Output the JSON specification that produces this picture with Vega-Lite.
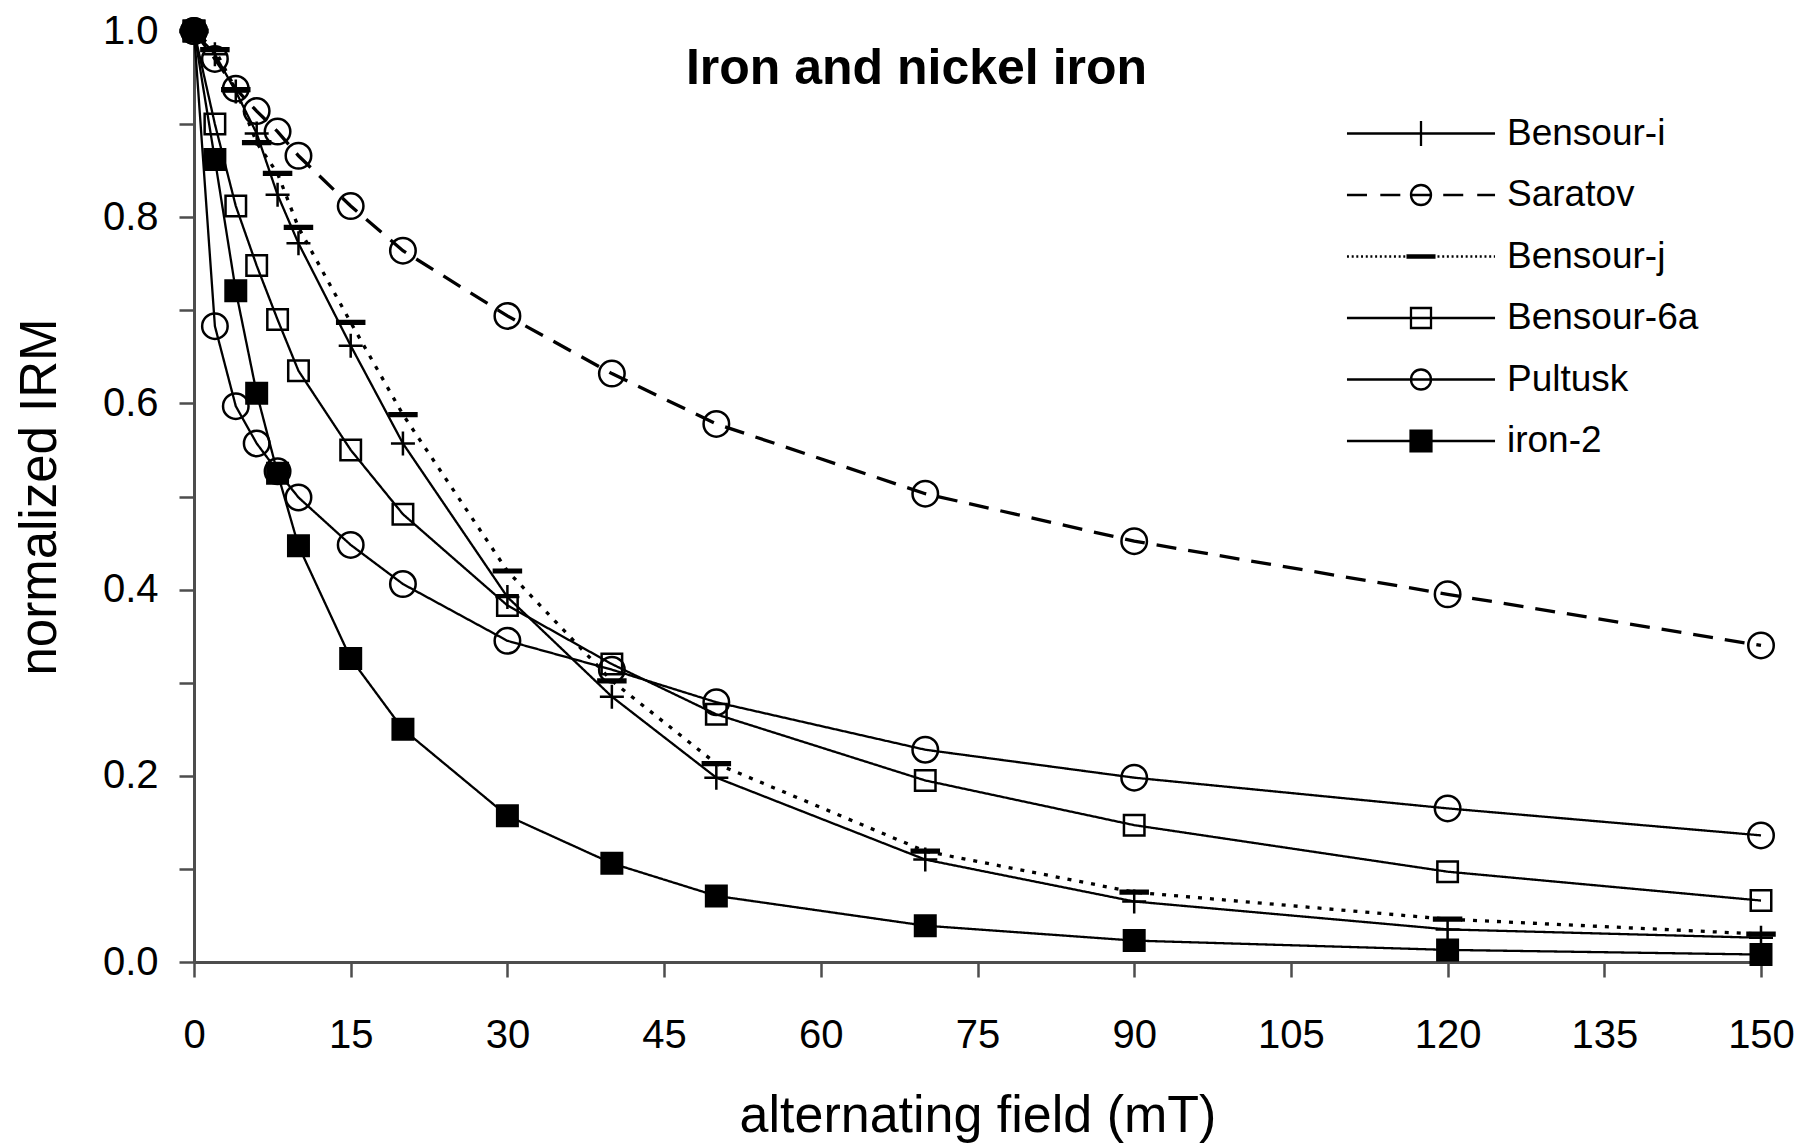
{
  "$schema": "https://vega.github.io/schema/vega-lite/v6.json",
  "width": 1567,
  "height": 931,
  "autosize": {"type": "none"},
  "padding": {"left": 194, "top": 31, "right": 42, "bottom": 182},
  "background": "white",
  "title": {
    "text": "Iron and nickel iron",
    "font": "Liberation Sans",
    "fontSize": 50,
    "fontWeight": "bold",
    "color": "black",
    "anchor": "middle",
    "frame": "group",
    "baseline": "alphabetic",
    "dx": -61,
    "offset": -123
  },
  "data": {
    "values": [
      {"s": "Bensour-i", "x": 0, "y": 1.0},
      {"s": "Bensour-i", "x": 2, "y": 0.975},
      {"s": "Bensour-i", "x": 4, "y": 0.935},
      {"s": "Bensour-i", "x": 6, "y": 0.89},
      {"s": "Bensour-i", "x": 8, "y": 0.824},
      {"s": "Bensour-i", "x": 10, "y": 0.772},
      {"s": "Bensour-i", "x": 15, "y": 0.662},
      {"s": "Bensour-i", "x": 20, "y": 0.557},
      {"s": "Bensour-i", "x": 30, "y": 0.392},
      {"s": "Bensour-i", "x": 40, "y": 0.285},
      {"s": "Bensour-i", "x": 50, "y": 0.198},
      {"s": "Bensour-i", "x": 70, "y": 0.11},
      {"s": "Bensour-i", "x": 90, "y": 0.065},
      {"s": "Bensour-i", "x": 120, "y": 0.035},
      {"s": "Bensour-i", "x": 150, "y": 0.026},
      {"s": "Saratov", "x": 0, "y": 1.0},
      {"s": "Saratov", "x": 2, "y": 0.97},
      {"s": "Saratov", "x": 4, "y": 0.938},
      {"s": "Saratov", "x": 6, "y": 0.914},
      {"s": "Saratov", "x": 8, "y": 0.892},
      {"s": "Saratov", "x": 10, "y": 0.866},
      {"s": "Saratov", "x": 15, "y": 0.812},
      {"s": "Saratov", "x": 20, "y": 0.764},
      {"s": "Saratov", "x": 30, "y": 0.694},
      {"s": "Saratov", "x": 40, "y": 0.632},
      {"s": "Saratov", "x": 50, "y": 0.578},
      {"s": "Saratov", "x": 70, "y": 0.503},
      {"s": "Saratov", "x": 90, "y": 0.452},
      {"s": "Saratov", "x": 120, "y": 0.395},
      {"s": "Saratov", "x": 150, "y": 0.34},
      {"s": "Bensour-j", "x": 0, "y": 1.0},
      {"s": "Bensour-j", "x": 2, "y": 0.98},
      {"s": "Bensour-j", "x": 4, "y": 0.937},
      {"s": "Bensour-j", "x": 6, "y": 0.88},
      {"s": "Bensour-j", "x": 8, "y": 0.847},
      {"s": "Bensour-j", "x": 10, "y": 0.789},
      {"s": "Bensour-j", "x": 15, "y": 0.687},
      {"s": "Bensour-j", "x": 20, "y": 0.588},
      {"s": "Bensour-j", "x": 30, "y": 0.42},
      {"s": "Bensour-j", "x": 40, "y": 0.302},
      {"s": "Bensour-j", "x": 50, "y": 0.213},
      {"s": "Bensour-j", "x": 70, "y": 0.119},
      {"s": "Bensour-j", "x": 90, "y": 0.075},
      {"s": "Bensour-j", "x": 120, "y": 0.046},
      {"s": "Bensour-j", "x": 150, "y": 0.03},
      {"s": "Bensour-6a", "x": 0, "y": 1.0},
      {"s": "Bensour-6a", "x": 2, "y": 0.9},
      {"s": "Bensour-6a", "x": 4, "y": 0.812},
      {"s": "Bensour-6a", "x": 6, "y": 0.748},
      {"s": "Bensour-6a", "x": 8, "y": 0.69},
      {"s": "Bensour-6a", "x": 10, "y": 0.635},
      {"s": "Bensour-6a", "x": 15, "y": 0.55},
      {"s": "Bensour-6a", "x": 20, "y": 0.481},
      {"s": "Bensour-6a", "x": 30, "y": 0.383},
      {"s": "Bensour-6a", "x": 40, "y": 0.32},
      {"s": "Bensour-6a", "x": 50, "y": 0.266},
      {"s": "Bensour-6a", "x": 70, "y": 0.195},
      {"s": "Bensour-6a", "x": 90, "y": 0.147},
      {"s": "Bensour-6a", "x": 120, "y": 0.097},
      {"s": "Bensour-6a", "x": 150, "y": 0.066},
      {"s": "Pultusk", "x": 0, "y": 1.0},
      {"s": "Pultusk", "x": 2, "y": 0.683},
      {"s": "Pultusk", "x": 4, "y": 0.597},
      {"s": "Pultusk", "x": 6, "y": 0.557},
      {"s": "Pultusk", "x": 8, "y": 0.527},
      {"s": "Pultusk", "x": 10, "y": 0.499},
      {"s": "Pultusk", "x": 15, "y": 0.448},
      {"s": "Pultusk", "x": 20, "y": 0.406},
      {"s": "Pultusk", "x": 30, "y": 0.345},
      {"s": "Pultusk", "x": 40, "y": 0.314},
      {"s": "Pultusk", "x": 50, "y": 0.279},
      {"s": "Pultusk", "x": 70, "y": 0.228},
      {"s": "Pultusk", "x": 90, "y": 0.198},
      {"s": "Pultusk", "x": 120, "y": 0.165},
      {"s": "Pultusk", "x": 150, "y": 0.136},
      {"s": "iron-2", "x": 0, "y": 1.0},
      {"s": "iron-2", "x": 2, "y": 0.862},
      {"s": "iron-2", "x": 4, "y": 0.721},
      {"s": "iron-2", "x": 6, "y": 0.611},
      {"s": "iron-2", "x": 8, "y": 0.525},
      {"s": "iron-2", "x": 10, "y": 0.447},
      {"s": "iron-2", "x": 15, "y": 0.326},
      {"s": "iron-2", "x": 20, "y": 0.25},
      {"s": "iron-2", "x": 30, "y": 0.157},
      {"s": "iron-2", "x": 40, "y": 0.106},
      {"s": "iron-2", "x": 50, "y": 0.071},
      {"s": "iron-2", "x": 70, "y": 0.039},
      {"s": "iron-2", "x": 90, "y": 0.023},
      {"s": "iron-2", "x": 120, "y": 0.013},
      {"s": "iron-2", "x": 150, "y": 0.008}
    ]
  },
  "encoding": {
    "x": {
      "field": "x",
      "type": "quantitative",
      "scale": {"domain": [0, 150], "nice": false, "zero": false},
      "axis": {
        "title": "alternating field (mT)",
        "values": [0, 15, 30, 45, 60, 75, 90, 105, 120, 135, 150],
        "labelFlush": false,
        "labelOverlap": false,
        "tickSize": 15,
        "labelPadding": 38,
        "titlePadding": 35,
        "titleFontSize": 52
      }
    },
    "y": {
      "field": "y",
      "type": "quantitative",
      "scale": {"domain": [0, 1], "nice": false},
      "axis": {
        "title": "normalized IRM",
        "values": [0, 0.1, 0.2, 0.3, 0.4, 0.5, 0.6, 0.7, 0.8, 0.9, 1.0],
        "labelExpr": "round(datum.value * 10) % 2 == 0 ? format(datum.value, '.1f') : ''",
        "labelOverlap": false,
        "labelFlush": false,
        "tickSize": 15,
        "labelPadding": 21,
        "titlePadding": 36
      }
    }
  },
  "layer": [
    {
      "mark": {"type": "line", "color": "black"},
      "encoding": {
        "detail": {"field": "s"},
        "strokeDash": {
          "condition": [
            {"test": "datum.s === 'Saratov'", "value": [20, 12]},
            {"test": "datum.s === 'Bensour-j'", "value": [4, 8]}
          ],
          "value": [1, 0]
        },
        "strokeWidth": {
          "condition": [
            {"test": "datum.s === 'Saratov' || datum.s === 'Bensour-j'", "value": 3.3}
          ],
          "value": 2.3
        }
      }
    },
    {
      "mark": {"type": "point", "filled": true, "stroke": "black", "strokeWidth": 2.5, "opacity": 1},
      "encoding": {
        "shape": {
          "field": "s",
          "type": "nominal",
          "scale": {
            "domain": ["Bensour-i", "Saratov", "Bensour-j", "Bensour-6a", "Pultusk", "iron-2"],
            "range": ["M-1,0L1,0M0,-1L0,1", "circle", "M-1,-0.1L1,-0.1L1,0.1L-1,0.1Z", "square", "circle", "square"]
          },
          "legend": null
        },
        "fill": {
          "condition": {"test": "datum.s === 'iron-2' || datum.s === 'Bensour-j'", "value": "black"},
          "value": "transparent"
        },
        "size": {
          "condition": [
            {"test": "datum.s === 'Saratov' || datum.s === 'Pultusk'", "value": 650},
            {"test": "datum.s === 'Bensour-6a' || datum.s === 'iron-2'", "value": 420},
            {"test": "datum.s === 'Bensour-j'", "value": 729}
          ],
          "value": 576
        }
      }
    },
    {
      "mark": {"type": "point", "filled": false, "color": "black", "strokeWidth": 2.3, "opacity": 0, "size": 484},
      "encoding": {
        "shape": {
          "field": "s",
          "type": "nominal",
          "scale": {
            "domain": ["Bensour-i", "Saratov", "Bensour-j", "Bensour-6a", "Pultusk", "iron-2"],
            "range": [
              "M-6.73,0L6.73,0M0,-1.14L0,1.14",
              "M-6.73,0L-4.91,0M-3.7,0L-1.88,0M2.02,0L3.84,0M5.11,0L6.73,0M-0.91,0A0.91,0.91,0,1,1,0.91,0A0.91,0.91,0,1,1,-0.91,0M-0.91,0L0.91,0",
              "M-6.73,0L-6.55,0M-6.3,0L-6.12,0M-5.88,0L-5.7,0M-5.45,0L-5.27,0M-5.02,0L-4.84,0M-4.6,0L-4.42,0M-4.17,0L-3.99,0M-3.74,0L-3.56,0M-3.31,0L-3.13,0M-2.89,0L-2.71,0M-2.46,0L-2.28,0M-2.03,0L-1.85,0M-1.61,0L-1.43,0M1.5,0L1.68,0M1.93,0L2.11,0M2.35,0L2.53,0M2.78,0L2.96,0M3.21,0L3.39,0M3.63,0L3.81,0M4.06,0L4.24,0M4.49,0L4.67,0M4.92,0L5.1,0M5.34,0L5.52,0M5.77,0L5.95,0M6.2,0L6.38,0M6.62,0L6.73,0M-1.32,-0.1L1.32,-0.1M-1.32,0L1.32,0M-1.32,0.1L1.32,0.1",
              "M-6.73,0L6.73,0M-0.91,-0.91L0.91,-0.91L0.91,0.91L-0.91,0.91Z",
              "M-6.73,0L6.73,0M-0.91,0A0.91,0.91,0,1,1,0.91,0A0.91,0.91,0,1,1,-0.91,0",
              "M-6.73,0L6.73,0M-0.95,-0.95L0.95,-0.95L0.95,0.95L-0.95,0.95ZM-0.95,-0.76L0.95,-0.76M-0.95,-0.57L0.95,-0.57M-0.95,-0.38L0.95,-0.38M-0.95,-0.19L0.95,-0.19M-0.95,0.19L0.95,0.19M-0.95,0.38L0.95,0.38M-0.95,0.57L0.95,0.57M-0.95,0.76L0.95,0.76"
            ]
          },
          "legend": {
            "title": null,
            "orient": "none",
            "direction": "vertical",
            "legendX": 1153,
            "legendY": 84,
            "padding": 0,
            "symbolSize": 484,
            "symbolOffset": 55.5,
            "symbolStrokeWidth": 2.3,
            "symbolStrokeColor": "black",
            "symbolFillColor": "transparent",
            "symbolOpacity": 1,
            "labelFont": "Liberation Sans",
            "labelFontSize": 37,
            "labelColor": "black",
            "labelOffset": 67.5,
            "labelLimit": 0,
            "rowPadding": 23.5
          }
        }
      }
    }
  ],
  "resolve": {"scale": {"shape": "independent"}},
  "config": {
    "view": {"stroke": null},
    "font": "Liberation Sans",
    "axis": {
      "grid": false,
      "domainColor": "#4d4d4d",
      "domainWidth": 3,
      "tickColor": "#4d4d4d",
      "tickWidth": 2.5,
      "labelFont": "Liberation Sans",
      "labelFontSize": 40,
      "labelColor": "black",
      "titleFont": "Liberation Sans",
      "titleFontSize": 51,
      "titleFontWeight": "normal",
      "titleColor": "black"
    }
  }
}
